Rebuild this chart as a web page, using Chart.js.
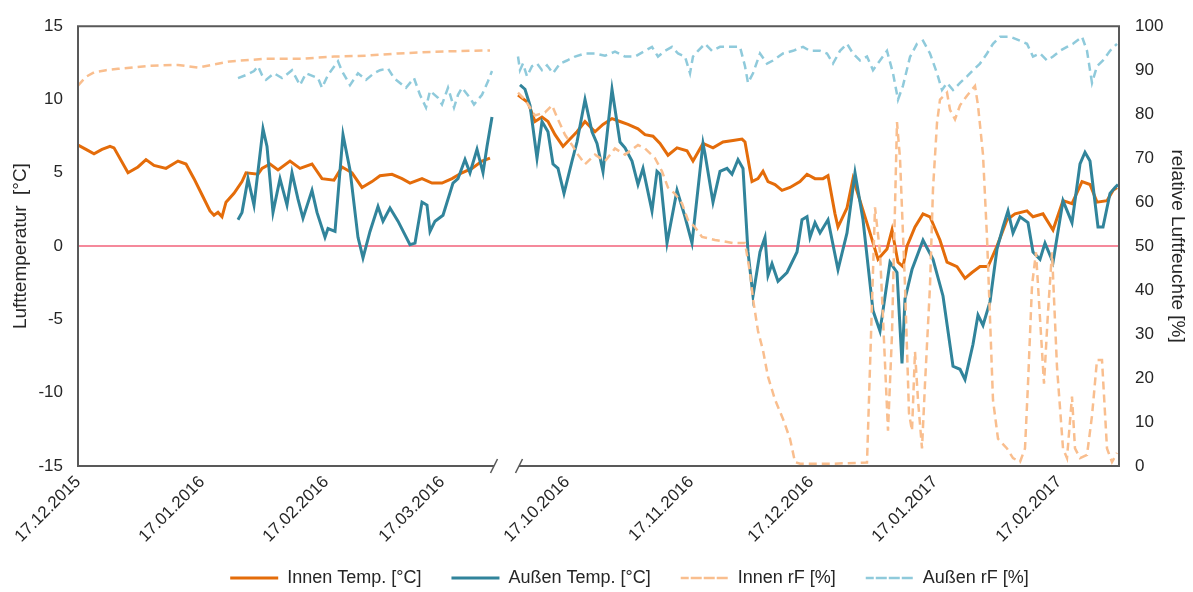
<!DOCTYPE html>
<html lang="de">
<head>
<meta charset="utf-8">
<title>Lufttemperatur und relative Luftfeuchte</title>
<script src="https://cdn.jsdelivr.net/npm/chart.js@4.4.1/dist/chart.umd.min.js"></script>
<style>
  html, body { margin: 0; padding: 0; background: #fff; }
  #wrap { width: 1193px; height: 592px; }
</style>
</head>
<body>
<div id="wrap"><canvas id="chart" width="1193" height="592"></canvas></div>
<script>
// ---------- DATA ----------
// Abschnitt 1: Tage ab 17.12.2015 / Abschnitt 2: Tage ab 17.10.2016
const tickDays1 = [0, 31, 62, 91];
const tickLabels1 = ["17.12.2015", "17.01.2016", "17.02.2016", "17.03.2016"];
const tickDays2 = [0, 31, 61, 92, 123];
const tickLabels2 = ["17.10.2016", "17.11.2016", "17.12.2016", "17.01.2017", "17.02.2017"];

const seg1End = 104;        // 30.03.2016
const seg2Start = -12;      // 05.10.2016
const seg2End = 138;        // 04.03.2017
const seg2Offset = 122.25;  // wo der 17.10.2016 auf der gestauchten Achse liegt

// [Tag, Wert]
const innenTemp1 = [[0,6.9],[2,6.6],[4,6.3],[6,6.6],[8,6.8],[9,6.7],[12.5,5.0],[15,5.4],[17,5.9],[19,5.5],[22,5.3],[25,5.8],
  [27,5.6],[29,4.6],[31,3.5],[33,2.4],[34,2.1],[35,2.3],[36,2.0],[37,3.0],[39,3.6],[41,4.4],[42,5.0],[45,4.9],[46,5.3],
  [48,5.6],[50,5.2],[53,5.8],[55.5,5.3],[58.5,5.6],[61,4.6],[64,4.5],[66,5.4],[68.5,5.0],[71,4.0],[73.5,4.4],[75.5,4.8],
  [78.5,4.9],[81,4.6],[83,4.3],[86,4.6],[88.5,4.3],[91,4.3],[93.5,4.6],[96,5.0],[98.5,5.3],[101,5.8],[103,6.0]];
const aussenTemp1 = [[40,1.8],[41,2.3],[42.5,4.6],[44,2.8],[46.25,8.0],[47.25,6.8],[48.75,2.3],[50.5,4.6],[52.25,2.8],
  [53.5,5.0],[55,3.2],[56.25,1.9],[58.5,3.8],[59.75,2.3],[61.75,0.6],[62.5,1.2],[64.25,1.0],[66.25,7.6],[68,5.2],
  [70,0.6],[71.25,-0.8],[73,1.0],[75,2.7],[76.25,1.7],[78,2.6],[80,1.7],[83,0.1],[84.25,0.2],[86,3.0],[87.25,2.8],
  [88,1.0],[89.25,1.7],[91.25,2.1],[93.75,4.3],[95,4.6],[96.75,5.9],[98,5.0],[99.75,6.6],[101.25,5.0],[102.25,6.8],[103.5,8.8]];
const innenRF1 = [[0,86.5],[2,88.5],[4,89.5],[7,90],[10,90.3],[18,91],[25,91.2],[30,90.6],[38,92],[47,92.6],
  [56,92.6],[64,93.1],[72,93.3],[80,93.8],[89,94.2],[103,94.5]];
const aussenRF1 = [[40,88.2],[42,88.9],[44,89.8],[45,90.9],[46,88.9],[47,87.8],[49,89.3],[51,88.2],[52,88.9],
  [53.5,90],[55.5,86.6],[57,89.3],[60,88.2],[61,86],[62.5,88.9],[65,92],[66,89.8],[68,86.6],[70,89.3],[72,87.8],
  [74,89.3],[75.5,90],[77.5,90.4],[79,88.2],[80.5,87.1],[82,86],[84,88.2],[85.5,84.4],[87,81.5],[88,85.3],[90,83.7],
  [91,82.2],[92.5,86],[94,81.5],[95,84.4],[96,86],[98,83.7],[99,82.2],[101,84.4],[102.5,87.5],[103.5,89.8]];

const innenTemp2 = [[-12.25,10.3],[-9.75,9.8],[-8,8.5],[-6.25,8.8],[-4.75,8.5],[-3,7.6],[-1,6.8],[0.75,7.3],[2.5,7.8],
  [4.5,8.5],[7,7.8],[9,8.3],[11.25,8.7],[13.25,8.5],[15.25,8.3],[17.75,8.0],[19.5,7.6],[21.5,7.5],[23.25,7.0],
  [25.25,6.2],[27.5,6.7],[30,6.5],[31.5,5.8],[34,7.0],[36.5,6.7],[39,7.1],[41.5,7.2],[43.75,7.3],[44.5,7.1],
  [46.25,4.4],[47.75,4.6],[49,5.1],[50.25,4.4],[52,4.2],[53.75,3.8],[55.75,4.0],[58.25,4.4],[60,4.9],[62,4.6],
  [64,4.6],[65.25,4.8],[67,2.2],[67.75,1.3],[70,2.6],[71.5,4.6],[73.25,3.1],[75.75,0.9],[77.75,-0.9],[80,-0.2],
  [81.25,1.1],[82.75,-1.1],[84,-1.4],[85,0],[87,1.3],[89,2.2],[90.75,2.0],[93.25,0.4],[95,-1.1],[97.5,-1.4],
  [99.5,-2.2],[101.25,-1.8],[103.25,-1.4],[105.25,-1.4],[107.5,0],[110,1.8],[112,2.2],[115,2.4],[116.5,2.0],
  [119,2.2],[121.5,1.1],[124,3.1],[126.25,2.9],[128.75,4.4],[130.75,4.2],[132.5,3.0],[135,3.1],[136.5,3.8],[137.5,4.0]];
const aussenTemp2 = [[-11.75,11.0],[-10.5,10.7],[-9.25,9.6],[-7.5,6.0],[-6.25,8.5],[-4.75,7.8],[-3.5,5.6],[-2.25,5.3],
  [-0.75,3.6],[1.25,5.8],[2.5,7.1],[4.5,10.0],[6.25,7.8],[7.5,7.0],[9,5.1],[11.25,10.7],[13.25,7.1],[14.5,6.7],
  [16.25,5.8],[17.75,4.2],[19,5.3],[21.25,2.4],[22.5,5.1],[23.25,4.9],[25,0.2],[27.5,3.8],[29.5,2.0],[31.25,0.2],
  [34,7.0],[34.5,6.3],[36.5,3.0],[38.25,5.1],[40,5.3],[41.25,4.9],[42.75,5.9],[44,5.3],[45.25,-0.4],[46.5,-3.4],
  [48.25,-0.4],[49.5,0.6],[50.25,-2.0],[51.25,-1.2],[52.75,-2.4],[55,-1.8],[57.5,-0.4],[58.75,1.8],[60,2.0],
  [60.75,0.6],[62,1.6],[63.25,0.9],[65.25,1.8],[67.75,-1.6],[70,0.9],[72,5.0],[74,1.8],[76.5,-4.4],[78.25,-5.8],
  [80.75,-1.1],[82.5,-1.8],[83.75,-8.0],[84.5,-3.6],[86.25,-1.6],[89,0.4],[91.5,-0.9],[94,-3.4],[96.5,-8.2],
  [98.25,-8.4],[99.5,-9.1],[101.5,-6.7],[102.75,-4.7],[104,-5.4],[105.75,-3.8],[107.5,-0.2],[109,1.3],[110.25,2.4],
  [111.5,0.9],[113.25,2.0],[115.25,1.6],[116.5,-0.4],[118.25,-0.9],[119.5,0.2],[121.5,-1.1],[124,3.1],[126.25,1.6],
  [128.25,5.6],[129.5,6.4],[130.75,5.8],[132.75,1.3],[134,1.3],[135.75,3.6],[137,4.0],[137.75,4.2]];
const innenRF2 = [[-12.25,84.9],[-10.5,83.3],[-8,79.7],[-5.5,80.4],[-3.75,82],[-2.25,78.8],[-0.5,75.3],[1.25,73],
  [2.75,70.8],[4.5,68.6],[7,70.8],[9.5,69.3],[12,72.2],[14.5,70.8],[17.75,73],[19.5,72.2],[22,70],[23.75,67],
  [25.25,63.3],[27,61.9],[28.75,59.7],[30.25,55.9],[32,54.3],[33.75,52.1],[37,51.4],[41.5,50.7],[44.5,50.7],
  [45.75,44],[46.5,38],[47.75,30.7],[49,26.3],[50.25,20.3],[52,15.1],[54,10.7],[55.75,6.2],[57,0.9],[58.25,0.5],
  [65.75,0.5],[75,0.8],[75.75,22.5],[77,58.8],[78.25,48.6],[79,33.6],[80.25,8],[81.25,30],[82.5,78.2],[83.25,70],
  [84.5,41],[85.5,12],[86.25,8],[87,26],[87.75,15],[88.75,4],[89.5,18.7],[90.75,41],[91.5,63],[92.5,78],[93.25,83.3],
  [95,84.9],[95.75,81],[97,78.8],[98.25,82],[100,84.2],[102,86.4],[102.75,82],[104,70.8],[105,52],[105.75,33.6],
  [106.5,15],[107.75,6.2],[110,4],[111.5,1.8],[113.25,0.9],[114.5,4],[115.25,18.7],[116.25,41],[117.25,48.6],
  [118.25,33.6],[119.25,18.7],[120.25,35],[121.25,48.6],[122.5,22.5],[124,4],[125,1.8],[126.25,15.8],[127,4],
  [128.25,1.8],[130,2.5],[131.25,11.4],[132.5,24.1],[133.75,24.1],[135,4],[136.25,0.9],[137.5,3]];
const aussenRF2 = [[-12.25,93.1],[-11.75,90],[-11,91.5],[-10,88.6],[-8.75,90.9],[-7.5,91.5],[-6.25,90],[-5,91.1],
  [-3.5,89.3],[-1.75,91.5],[0,92.2],[2,93.1],[4.5,93.8],[7,93.8],[9.5,93.3],[12,94.2],[14.5,93.1],[17,93.1],
  [19.5,94.4],[21.25,95.3],[22.75,93.1],[24.5,94.4],[26.25,95.3],[27.75,93.8],[29.5,93.1],[30.75,89.3],[31.5,93.1],
  [32.75,94.4],[34.5,96],[36.25,94.4],[38.25,95.3],[40.75,95.3],[43.25,95.3],[44.5,90.9],[45.25,87.1],[46.5,89.3],
  [48.25,93.8],[50,91.5],[51.5,92.2],[54,93.8],[56.5,94.4],[59,95.3],[60.75,94.4],[63.25,94.4],[65,93.8],
  [66.5,91.5],[68.25,94.4],[70,96],[71.5,93.8],[73.25,92.2],[75,93.1],[76.5,90],[78.25,92.2],[80,94.4],[81.5,89.3],
  [82.75,83.3],[84,86.5],[85.75,93],[87.5,96],[89,96.7],[90.75,93.8],[92.5,89.3],[93.75,85.5],[95,87.1],[96.5,85.5],
  [98.25,87.1],[100,88.6],[101.5,90],[103.25,91.5],[105,93.8],[106.5,96],[108.25,97.6],[110.75,97.6],[113.25,96.7],
  [115,96],[116.5,93.1],[118.25,93.8],[120,92.2],[121.5,93.1],[123.25,94.4],[125,95.3],[126.5,96],[128.75,97.6],
  [130,94.4],[131.25,87.1],[132.5,90.9],[134,92.2],[135.75,94.4],[137.5,96]];

const zeroLine = [0, 0];

// ---------- helpers ----------
const FONT = '"Liberation Sans", Arial, sans-serif';
const TEXT = "#262626";
const FRAME = "#595959";
const xMax = seg2Offset + seg2End;

// beide Abschnitte in eine Reihe, mit Lücke dazwischen
function joinSegments(a, b){
  const pts = a.map(p => ({ x: p[0], y: p[1] }));
  pts.push({ x: seg1End + 3, y: null });
  b.forEach(p => pts.push({ x: p[0] + seg2Offset, y: p[1] }));
  return pts;
}

const tickValues = tickDays1.concat(tickDays2.map(d => d + seg2Offset));
const tickTexts = tickLabels1.concat(tickLabels2);

// Rahmen + Achsenbruch
const framePlugin = {
  id: "frame",
  afterDatasetsDraw(chart){
    const { ctx, chartArea: a, scales } = chart;
    const xb1 = scales.x.getPixelForValue(seg1End);
    const xb2 = scales.x.getPixelForValue(seg2Start + seg2Offset);
    ctx.save();
    ctx.strokeStyle = FRAME;
    ctx.lineWidth = 2;
    ctx.beginPath();
    ctx.moveTo(xb1, a.bottom); ctx.lineTo(a.left, a.bottom);
    ctx.lineTo(a.left, a.top); ctx.lineTo(a.right, a.top);
    ctx.lineTo(a.right, a.bottom); ctx.lineTo(xb2, a.bottom);
    ctx.stroke();
    ctx.lineWidth = 1.5;
    [xb1, xb2].forEach(x => {
      ctx.beginPath();
      ctx.moveTo(x - 3.5, a.bottom + 7);
      ctx.lineTo(x + 3.5, a.bottom - 7);
      ctx.stroke();
    });
    ctx.restore();
  }
};

// Legende wie im Original etwas rechts der Mitte, Zeilenmitte bei y=578
const legendShift = {
  id: "legendShift",
  afterLayout(chart){
    const l = chart.legend;
    if(!l) return;
    l.left += 33; l.right += 33;
    l.top = 578 - l.options.labels.padding - 9;
    l.bottom = 592;
  }
};

// ---------- chart ----------
const ctx = document.getElementById("chart");
new Chart(ctx, {
  type: "line",
  data: {
    datasets: [
      { label: "Innen Temp. [°C]", data: joinSegments(innenTemp1, innenTemp2), yAxisID: "yT",
        borderColor: "#E46C0A", backgroundColor: "#E46C0A", borderWidth: 3, order: 3 },
      { label: "Außen Temp. [°C]", data: joinSegments(aussenTemp1, aussenTemp2), yAxisID: "yT",
        borderColor: "#31849B", backgroundColor: "#31849B", borderWidth: 3, order: 2 },
      { label: "Innen rF [%]", data: joinSegments(innenRF1, innenRF2), yAxisID: "yH",
        borderColor: "#F9BE8E", backgroundColor: "#F9BE8E", borderWidth: 2.5, borderDash: [8, 5], order: 1 },
      { label: "Außen rF [%]", data: joinSegments(aussenRF1, aussenRF2), yAxisID: "yH",
        borderColor: "#8FCADB", backgroundColor: "#8FCADB", borderWidth: 2.5, borderDash: [8, 5], order: 0 },
      { label: "", data: [{ x: 0, y: zeroLine[0] }, { x: xMax, y: zeroLine[1] }], yAxisID: "yT",
        borderColor: "#F2627A", borderWidth: 1.5, order: 5 }
    ]
  },
  options: {
    responsive: false,
    animation: false,
    events: [],
    spanGaps: false,
    elements: { point: { radius: 0 }, line: { tension: 0, borderCapStyle: "butt" } },
    layout: { padding: { top: 17, left: 0, right: 0, bottom: 0 } },
    plugins: {
      tooltip: { enabled: false },
      legend: {
        position: "bottom",
        maxHeight: 46,
        labels: {
          font: { family: FONT, size: 18 },
          color: TEXT,
          boxWidth: 48,
          boxHeight: 0,
          padding: 30,
          filter: item => item.text !== "",
          sort: (a, b) => a.datasetIndex - b.datasetIndex
        }
      }
    },
    scales: {
      x: {
        type: "linear",
        min: 0,
        max: xMax,
        grid: { display: false, drawTicks: false },
        border: { display: false },
        afterBuildTicks(scale){ scale.ticks = tickValues.map(v => ({ value: v })); },
        afterFit(scale){ scale.height = 80; },
        ticks: {
          autoSkip: false,
          minRotation: 45,
          maxRotation: 45,
          padding: 6,
          color: TEXT,
          font: { family: FONT, size: 17 },
          callback(value){
            const i = tickValues.findIndex(v => Math.abs(v - value) < 0.01);
            return i >= 0 ? tickTexts[i] : "";
          }
        }
      },
      yT: {
        position: "left",
        min: -15,
        max: 15,
        grid: { display: false, drawTicks: false },
        border: { display: false },
        afterFit(scale){ scale.width = 78; },
        ticks: { stepSize: 5, padding: 15, color: TEXT, font: { family: FONT, size: 17 } },
        title: { display: true, text: "Lufttemperatur  [°C]", color: TEXT,
                 font: { family: FONT, size: 19 }, padding: { top: 9, bottom: 0 } }
      },
      yH: {
        position: "right",
        min: 0,
        max: 100,
        grid: { display: false, drawTicks: false },
        border: { display: false },
        afterFit(scale){ scale.width = 74; },
        ticks: { stepSize: 10, padding: 16, color: TEXT, font: { family: FONT, size: 17 } },
        title: { display: true, text: "relative Luftfeuchte [%]", color: TEXT,
                 font: { family: FONT, size: 19 }, padding: { top: 4, bottom: 0 } }
      }
    }
  },
  plugins: [framePlugin, legendShift]
});
</script>
</body>
</html>
